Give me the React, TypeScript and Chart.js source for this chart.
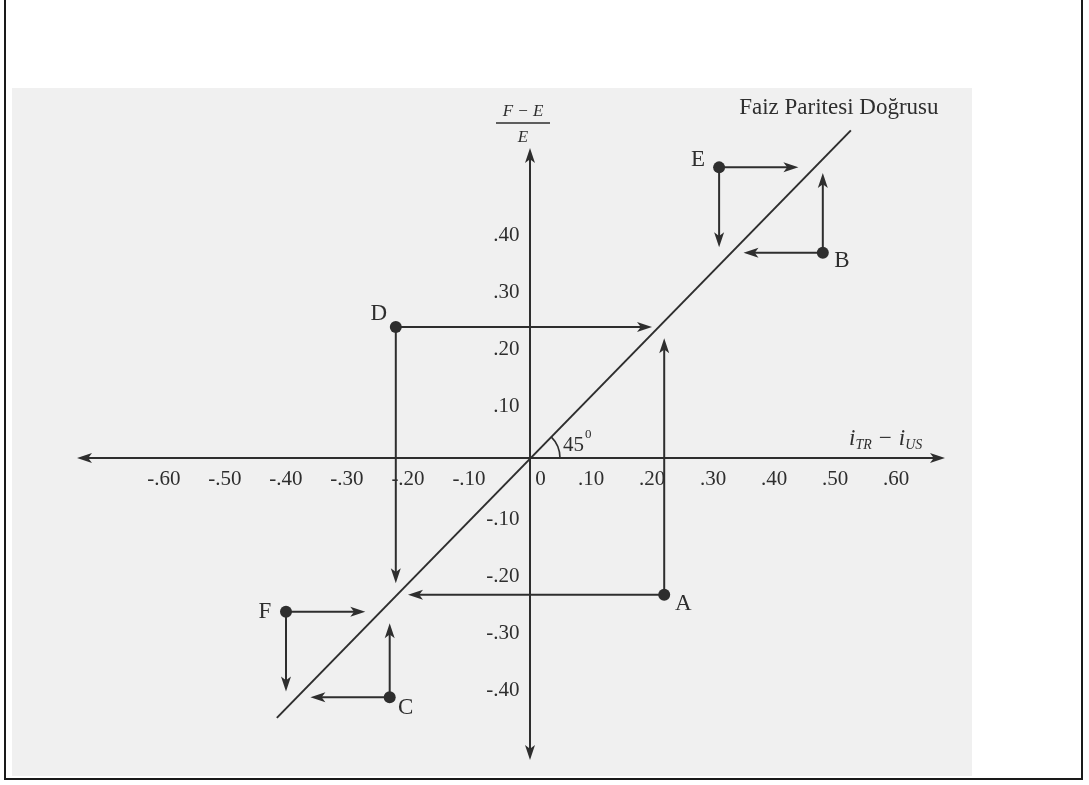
import { useEffect, useRef } from 'react';
import { Chart, registerables } from 'chart.js';

Chart.register(...registerables);

// Horizontal axis: interest rate differential i_TR - i_US
const xTickValues = [-0.6, -0.5, -0.4, -0.3, -0.2, -0.1, 0, 0.1, 0.2, 0.3, 0.4, 0.5, 0.6];
const xTickLabels = ['-.60', '-.50', '-.40', '-.30', '-.20', '-.10', '0', '.10', '.20', '.30', '.40', '.50', '.60'];
// Vertical axis: forward premium (F - E) / E
const yTickValues = [-0.4, -0.3, -0.2, -0.1, 0.1, 0.2, 0.3, 0.4];
const yTickLabels = ['-.40', '-.30', '-.20', '-.10', '.10', '.20', '.30', '.40'];

// Interest parity line (45 degrees through the origin)
const parityX = [-0.415, 0.526];
const parityY = [-0.456, 0.575];

// Disequilibrium points
const pointNames = ['D', 'A', 'E', 'B', 'F', 'C'];
const pointX = [-0.22, 0.22, 0.31, 0.48, -0.40, -0.23];
const pointY = [0.23, -0.24, 0.51, 0.36, -0.27, -0.42];

// Adjustment arrows: start point, direction of motion, value where the arrow stops
const arrowFrom = ['D', 'D', 'A', 'A', 'E', 'E', 'B', 'B', 'F', 'F', 'C', 'C'];
const arrowAxis = ['x', 'y', 'x', 'y', 'x', 'y', 'y', 'x', 'x', 'y', 'y', 'x'];
const arrowTo = [0.2, -0.22, -0.2, 0.21, 0.44, 0.37, 0.5, 0.35, -0.27, -0.41, -0.29, -0.36];

const X_MIN = -0.7426;
const X_MAX = 0.6803;
const Y_MIN = -0.53;
const Y_MAX = 0.544;

const INK = '#2e2e2e';
const SERIF = '"Liberation Serif", "DejaVu Serif", serif';

// offsets of the letter next to each point
const labelDx: Record<string, number> = { D: -17, A: 19, E: -21, B: 19, F: -21, C: 16 };
const labelDy: Record<string, number> = { D: -13, A: 9, E: -7, B: 8, F: 0, C: 11 };

function arrowHead(ctx: CanvasRenderingContext2D, x1: number, y1: number, x2: number, y2: number, len = 15, half = 5) {
  const a = Math.atan2(y2 - y1, x2 - x1);
  ctx.beginPath();
  ctx.moveTo(x2, y2);
  ctx.lineTo(x2 - len * Math.cos(a) + half * Math.sin(a), y2 - len * Math.sin(a) - half * Math.cos(a));
  ctx.lineTo(x2 - len * 0.75 * Math.cos(a), y2 - len * 0.75 * Math.sin(a));
  ctx.lineTo(x2 - len * Math.cos(a) - half * Math.sin(a), y2 - len * Math.sin(a) + half * Math.cos(a));
  ctx.closePath();
  ctx.fill();
}

function arrow(ctx: CanvasRenderingContext2D, x1: number, y1: number, x2: number, y2: number) {
  const a = Math.atan2(y2 - y1, x2 - x1);
  ctx.beginPath();
  ctx.moveTo(x1, y1);
  ctx.lineTo(x2 - 10 * Math.cos(a), y2 - 10 * Math.sin(a));
  ctx.stroke();
  arrowHead(ctx, x1, y1, x2, y2);
}

const pagePlugin = {
  id: 'page',
  beforeDraw(chart: any) {
    const { ctx, width, height } = chart;
    ctx.save();
    ctx.fillStyle = '#ffffff';
    ctx.fillRect(0, 0, width, height);
    ctx.fillStyle = '#f0f0f0';
    ctx.fillRect(12, 88, 960, 688);
    ctx.strokeStyle = '#1a1a1a';
    ctx.lineWidth = 2;
    ctx.beginPath();
    ctx.moveTo(5, 0);
    ctx.lineTo(5, 779);
    ctx.lineTo(1082, 779);
    ctx.lineTo(1082, 0);
    ctx.stroke();
    ctx.restore();
  },
};

const diagramPlugin = {
  id: 'diagram',
  beforeDatasetsDraw(chart: any) {
    const { ctx } = chart;
    const xs = chart.scales.x;
    const ys = chart.scales.y;
    const x0 = xs.getPixelForValue(0);
    const y0 = ys.getPixelForValue(0);
    ctx.save();
    ctx.strokeStyle = INK;
    ctx.fillStyle = INK;
    ctx.lineWidth = 2;
    // axes with arrowheads on both ends
    arrow(ctx, x0, y0, xs.left, y0);
    arrow(ctx, x0, y0, xs.right, y0);
    arrow(ctx, x0, y0, x0, ys.top);
    arrow(ctx, x0, y0, x0, ys.bottom);

    // adjustment arrows
    arrowFrom.forEach((name, i) => {
      const k = pointNames.indexOf(name);
      const px = xs.getPixelForValue(pointX[k]);
      const py = ys.getPixelForValue(pointY[k]);
      if (arrowAxis[i] === 'x') {
        arrow(ctx, px, py, xs.getPixelForValue(arrowTo[i]), py);
      } else {
        arrow(ctx, px, py, px, ys.getPixelForValue(arrowTo[i]));
      }
    });

    // 45 degree angle mark
    const px1 = xs.getPixelForValue(parityX[1]);
    const py1 = ys.getPixelForValue(parityY[1]);
    const ang = Math.atan2(py1 - y0, px1 - x0);
    ctx.lineWidth = 1.6;
    ctx.beginPath();
    ctx.arc(x0, y0, 30, ang, 0);
    ctx.stroke();
    ctx.restore();
  },
  afterDatasetsDraw(chart: any) {
    const { ctx } = chart;
    const xs = chart.scales.x;
    const ys = chart.scales.y;
    const x0 = xs.getPixelForValue(0);
    const y0 = ys.getPixelForValue(0);
    ctx.save();
    ctx.fillStyle = INK;
    ctx.textBaseline = 'middle';
    ctx.textAlign = 'center';

    // point letters
    ctx.font = `23px ${SERIF}`;
    pointNames.forEach((name, k) => {
      const px = xs.getPixelForValue(pointX[k]);
      const py = ys.getPixelForValue(pointY[k]);
      ctx.fillText(name, px + labelDx[name], py + labelDy[name]);
    });

    // parity line caption
    const tx = xs.getPixelForValue(parityX[1]);
    const ty = ys.getPixelForValue(parityY[1]);
    ctx.font = `23px ${SERIF}`;
    ctx.fillText('Faiz Paritesi Doğrusu', tx - 12, ty - 22);

    // angle label 45°
    ctx.font = `21px ${SERIF}`;
    ctx.textAlign = 'left';
    ctx.fillText('45', x0 + 33, y0 - 13);
    ctx.font = `13px ${SERIF}`;
    ctx.fillText('0', x0 + 55, y0 - 23);

    // vertical axis title: (F - E) / E
    const fx = x0 - 7;
    const top = ys.top;
    ctx.textAlign = 'center';
    ctx.font = `italic 17px ${SERIF}`;
    ctx.fillText('F \u2212 E', fx, top - 36);
    ctx.fillText('E', fx, top - 10);
    ctx.lineWidth = 1.5;
    ctx.strokeStyle = INK;
    ctx.beginPath();
    ctx.moveTo(fx - 27, top - 25);
    ctx.lineTo(fx + 27, top - 25);
    ctx.stroke();

    // horizontal axis title: i_TR - i_US
    let ax = xs.right - 96;
    const ay = y0 - 13;
    ctx.textAlign = 'left';
    ctx.textBaseline = 'alphabetic';
    const part = (txt: string, size: number, dy: number) => {
      ctx.font = `italic ${size}px ${SERIF}`;
      ctx.fillText(txt, ax, ay + dy);
      ax += ctx.measureText(txt).width;
    };
    part('i', 23, 0);
    part('TR', 14, 4);
    part(' \u2212 ', 23, 0);
    part('i', 23, 0);
    part('US', 14, 4);
    ctx.restore();
  },
};

export default function App() {
  const ref = useRef<HTMLCanvasElement>(null);
  useEffect(() => {
    const canvas = ref.current;
    if (!canvas) return;
    const chart = new Chart(canvas, {
      type: 'scatter',
      data: {
        datasets: [
          {
            label: 'Faiz Paritesi Doğrusu',
            data: parityX.map((x, i) => ({ x, y: parityY[i] })),
            showLine: true,
            borderColor: INK,
            borderWidth: 2,
            pointRadius: 0,
            clip: false,
          } as any,
          {
            label: 'Noktalar',
            data: pointX.map((x, i) => ({ x, y: pointY[i] })),
            pointRadius: 6,
            backgroundColor: INK,
            borderColor: INK,
            borderWidth: 0,
            clip: false,
          } as any,
        ],
      },
      options: {
        responsive: false,
        animation: false,
        layout: { padding: { left: 77, right: 144, top: 148, bottom: 25 } },
        plugins: { legend: { display: false }, tooltip: { enabled: false } },
        scales: {
          x: {
            type: 'linear',
            min: X_MIN,
            max: X_MAX,
            position: { y: 0 },
            grid: { display: false, drawTicks: true, tickLength: 4 },
            border: { display: false },
            afterBuildTicks: (s: any) => {
              s.ticks = xTickValues.map((v) => ({ value: v }));
            },
            ticks: {
              autoSkip: false,
              maxRotation: 0,
              padding: 5,
              color: INK,
              font: { family: SERIF, size: 21 },
              callback: (_v: any, i: number) => (xTickLabels[i] === '0' ? '\u2002\u20020' : xTickLabels[i]),
            },
          },
          y: {
            type: 'linear',
            min: Y_MIN,
            max: Y_MAX,
            position: { x: 0 },
            grid: { display: false, drawTicks: true, tickLength: 6 },
            border: { display: false },
            afterBuildTicks: (s: any) => {
              s.ticks = yTickValues.map((v) => ({ value: v }));
            },
            ticks: {
              autoSkip: false,
              padding: 4,
              labelOffset: 5,
              color: INK,
              font: { family: SERIF, size: 21 },
              // keep a small gap between the label and the axis line
              callback: (_v: any, i: number) => yTickLabels[i] + '\u2002',
            },
          },
        } as any,
      },
      plugins: [pagePlugin, diagramPlugin],
    });
    return () => chart.destroy();
  }, []);

  return (
    <div style={{ position: 'absolute', left: 0, top: 0, width: 1089, height: 785, background: '#fff' }}>
      <canvas ref={ref} width={1089} height={785} />
    </div>
  );
}
